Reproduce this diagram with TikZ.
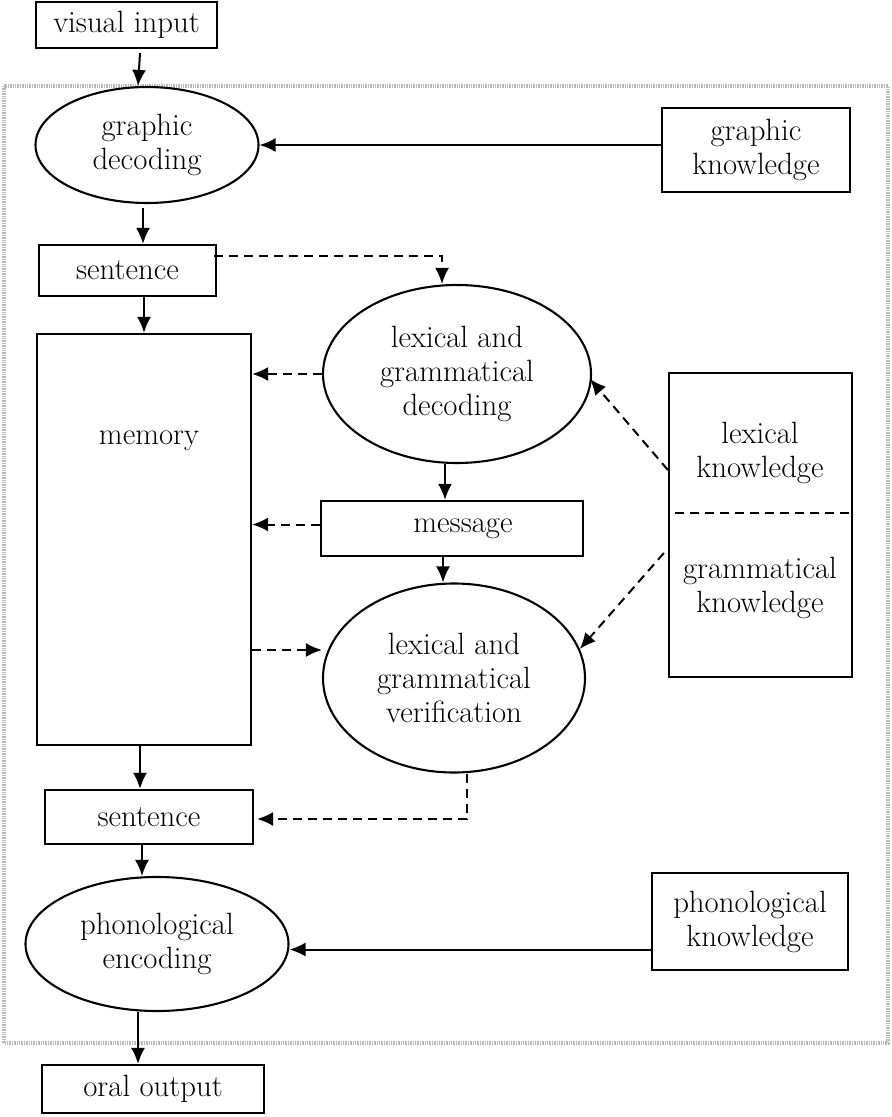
\documentclass[tikz,border=0pt]{standalone}
\usetikzlibrary{shapes.geometric,arrows.meta}
\begin{document}
\begin{tikzpicture}[x=0.5pt,y=-0.5pt,
  every node/.style={font=\fontsize{15.4}{17}\selectfont, align=center, inner sep=0pt},
  box/.style={draw, rectangle, line width=1.1pt},
  ell/.style={draw, ellipse, line width=1.05pt},
  arr/.style={-{Latex[length=8pt,width=7pt]}, line width=1pt},
  darr/.style={arr, dash pattern=on 4.5pt off 3pt},
  frame/.style={draw=gray!55, line width=1.6pt, dash pattern=on 0.7pt off 0.5pt}
]
\useasboundingbox (0,0) rectangle (891,1117);
\draw[frame] (4,86) rectangle (888,1043);

\node[box, minimum width=90.5pt, minimum height=23pt] (vis) at (126.5,25) {visual input};
\node[ell, minimum width=111.5pt, minimum height=58pt] (gdec) at (147,145) {graphic\\decoding};
\node[box, minimum width=94pt, minimum height=42pt] (gknow) at (756,150) {graphic\\knowledge};
\node[box, minimum width=88.5pt, minimum height=25.5pt] (sent1) at (127.5,270.5) {sentence};
\node[box, minimum width=107pt, minimum height=205.5pt] (mem) at (144,539.5) {};
\node[anchor=base] (memtxt) at (149,444) {memory};
\node[ell, minimum width=134pt, minimum height=89pt] (lgd) at (457,374) {lexical and\\grammatical\\decoding};
\node[box, minimum width=131pt, minimum height=27.5pt] (msg) at (452,528.5) {\hspace*{11pt}message};
\node[ell, minimum width=131pt, minimum height=94.5pt] (lgv) at (454,678) {lexical and\\grammatical\\verification};
\node[box, minimum width=91.5pt, minimum height=152pt] (know) at (760.5,525) {};
\node (lexk) at (760,453) {lexical\\knowledge};
\node (gramk) at (760,588) {grammatical\\knowledge};
\coordinate (divl) at (675,513);
\coordinate (divr) at (854,513);
\draw[line width=1pt, dash pattern=on 4.5pt off 3pt] (divl) -- (divr);
\node[box, minimum width=104pt, minimum height=27pt] (sent2) at (149,817) {sentence};
\node[ell, minimum width=131.5pt, minimum height=67pt] (phe) at (157,944) {phonological\\encoding};
\node[box, minimum width=98pt, minimum height=48.5pt] (phk) at (750,921.5) {phonological\\knowledge};
\node[box, minimum width=111pt, minimum height=24pt] (oral) at (153,1089) {oral output};
\coordinate (lgvin) at ([yshift=14pt]lgv.west);

% connectors
\draw[arr] ([xshift=6.75pt,yshift=-2pt]vis.south) -- ([xshift=-4.5pt]gdec.north);
\draw[arr] (gknow.west |- gdec.east) -- (gdec.east);
\draw[arr] ([xshift=-2pt,yshift=-2pt]gdec.south) -- ([xshift=-2pt]gdec.south |- sent1.north);
\draw[darr] ([xshift=-1.5pt,yshift=-6pt]sent1.north east) -| ([xshift=-7.5pt]lgd.north);
\draw[arr] (sent1.south -| mem.north) -- (mem.north);
\draw[darr] (lgd.west) -- (lgd.west -| mem.east);
\draw[arr] ([xshift=-6pt]lgd.south) -- ([xshift=-6pt]lgd.south |- msg.north);
\draw[darr] ([yshift=2pt]msg.west) -- ([yshift=2pt]msg.west -| mem.east);
\draw[arr] ([xshift=-5.5pt]lgv.north |- msg.south) -- ([xshift=-5.5pt]lgv.north);
\draw[darr] (mem.east |- lgvin) -- (lgvin);
\draw[darr] ([yshift=27.5pt]know.west) -- ([yshift=-2.5pt,xshift=-1pt]lgd.east);
\draw[darr] ([xshift=-2pt,yshift=-14pt]know.west) -- (lgv.13);
\draw[darr] ([xshift=6.5pt]lgv.south) |- ([xshift=1.5pt,yshift=-1pt]sent2.east);
\draw[arr] ([xshift=-2pt]mem.south) -- ([xshift=-2pt]mem.south |- sent2.north);
\draw[arr] ([xshift=-3.5pt]sent2.south) -- ([xshift=-7.5pt]phe.north);
\draw[arr] ([yshift=-14pt]phk.west) -- ([yshift=-14pt]phk.west -| phe.east);
\draw[arr] ([xshift=-9.5pt]phe.south) -- ([xshift=-9.5pt]phe.south |- oral.north);
\end{tikzpicture}
\end{document}
